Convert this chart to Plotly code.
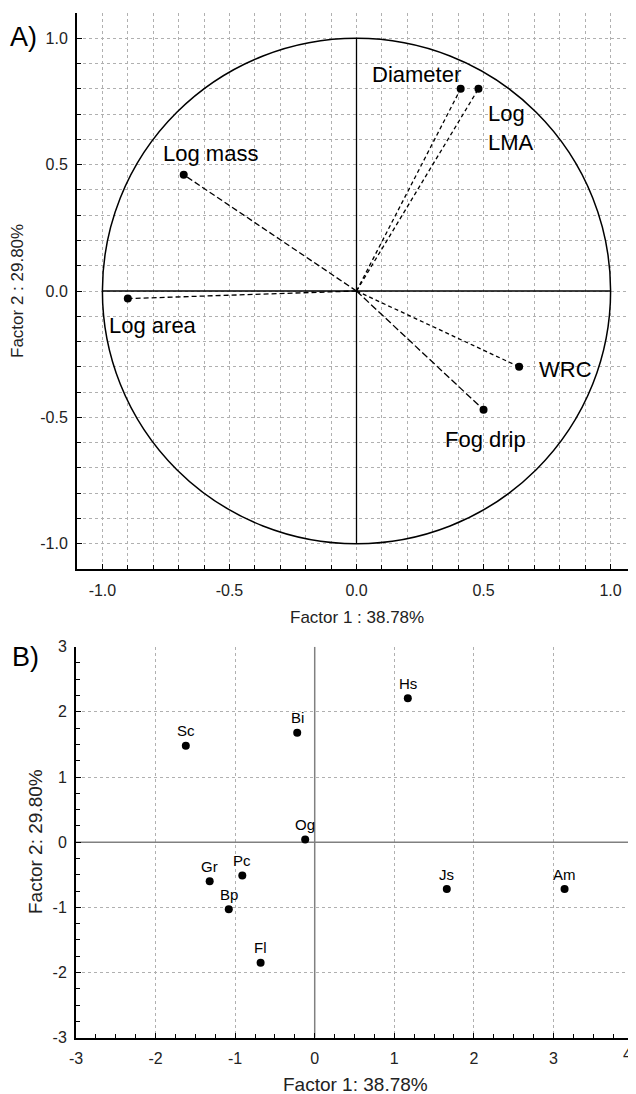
import plotly.graph_objects as go

# ---- Data: panel A (variable loadings) ----
var_names = ["Log mass", "Log area", "Diameter", "Log LMA", "WRC", "Fog drip"]
var_f1 = [-0.68, -0.90, 0.41, 0.48, 0.64, 0.50]
var_f2 = [0.46, -0.03, 0.80, 0.80, -0.30, -0.47]

# ---- Data: panel B (species scores) ----
species = ["Sc", "Bi", "Og", "Hs", "Gr", "Pc", "Bp", "Fl", "Js", "Am"]
sp_f1 = [-1.62, -0.22, -0.12, 1.17, -1.32, -0.91, -1.08, -0.68, 1.66, 3.14]
sp_f2 = [1.48, 1.68, 0.04, 2.21, -0.60, -0.51, -1.03, -1.85, -0.72, -0.72]

# ---- Tick labels ----
ticks_a = [-1.0, -0.5, 0.0, 0.5, 1.0]
ticktext_a = ["-1.0", "-0.5", "0.0", "0.5", "1.0"]
xticks_b = [-3, -2, -1, 0, 1, 2, 3, 4]
xticktext_b = ["-3", "-2", "-1", "0", "1", "2", "3", "4"]
yticks_b = [-3, -2, -1, 0, 1, 2, 3]
yticktext_b = ["-3", "-2", "-1", "0", "1", "2", "3"]

xtitle_a = "Factor 1 : 38.78%"
ytitle_a = "Factor 2 : 29.80%"
xtitle_b = "Factor 1: 38.78%"
ytitle_b = "Factor 2: 29.80%"

# page has an 8px body margin; size the figure so it fits the 636x1094 window
OFF = 8
W, H = 636 - OFF, 1094 - OFF
FONT = "Arial, Liberation Sans, sans-serif"


def px_x(p):
    """window pixel x -> paper fraction"""
    return (p - OFF) / W


def px_y(p):
    """window pixel y -> paper fraction"""
    return 1 - (p - OFF) / H


# label placement (style): anchor, xshift, yshift, text override
lab_style_a = {
    "Log mass": ("center", 27, 21, "Log mass"),
    "Log area": ("left", -21, -27, "Log area"),
    "Diameter": ("right", 2, 14, "Diameter"),
    "Log LMA": ("left", 8, -39, "Log<br>LMA"),
    "WRC": ("left", 18, -3, "WRC"),
    "Fog drip": ("center", 2, -30, "Fog drip"),
}
dash_a = {
    "Log mass": "6px,3px", "Log area": "5px,3px", "Diameter": "4px,3px",
    "Log LMA": "4px,3px", "WRC": "4px,3px", "Fog drip": "7px,3px",
}

fig = go.Figure()

# vectors for panel A
for n, x, y in zip(var_names, var_f1, var_f2):
    fig.add_trace(go.Scatter(x=[0, x], y=[0, y], mode="lines",
                             line=dict(color="black", width=1.3, dash=dash_a[n]),
                             xaxis="x", yaxis="y", showlegend=False, hoverinfo="skip"))
fig.add_trace(go.Scatter(x=var_f1, y=var_f2, mode="markers", text=var_names,
                         marker=dict(color="black", size=8),
                         xaxis="x", yaxis="y", showlegend=False))

# panel B points
fig.add_trace(go.Scatter(x=sp_f1, y=sp_f2, mode="markers", text=species,
                         marker=dict(color="black", size=8),
                         xaxis="x2", yaxis="y2", showlegend=False))

annotations = []
for n, x, y in zip(var_names, var_f1, var_f2):
    anc, xs, ys, t = lab_style_a[n]
    annotations.append(dict(x=x, y=y, xref="x", yref="y", text=t, showarrow=False,
                            xanchor=anc, yanchor="middle", xshift=xs, yshift=ys,
                            align="left", font=dict(family=FONT, size=22, color="black")))
for n, x, y in zip(species, sp_f1, sp_f2):
    annotations.append(dict(x=x, y=y, xref="x2", yref="y2", text=n, showarrow=False,
                            xanchor="center", yanchor="middle", yshift=15,
                            font=dict(family=FONT, size=15, color="black")))

# last x tick label of panel B sits on the page edge: draw it as an annotation
xticktext_b_axis = xticktext_b[:-1] + [""]
annotations.append(dict(x=xticks_b[-1], y=px_y(1054), xref="x2", yref="paper",
                        text=xticktext_b[-1], showarrow=False,
                        xanchor="right", xshift=1, yanchor="middle",
                        font=dict(family=FONT, size=16, color="#222")))

# titles and panel letters
annotations += [
    dict(x=px_x(357), y=px_y(617), xref="paper", yref="paper", text=xtitle_a, showarrow=False,
         xanchor="center", yanchor="middle", font=dict(family=FONT, size=17, color="#222")),
    dict(x=px_x(18), y=px_y(291), xref="paper", yref="paper", text=ytitle_a, showarrow=False,
         textangle=-90, xanchor="center", yanchor="middle", font=dict(family=FONT, size=17, color="#222")),
    dict(x=px_x(355), y=px_y(1084), xref="paper", yref="paper", text=xtitle_b, showarrow=False,
         xanchor="center", yanchor="middle", font=dict(family=FONT, size=19, color="#222")),
    dict(x=px_x(35), y=px_y(842), xref="paper", yref="paper", text=ytitle_b, showarrow=False,
         textangle=-90, xanchor="center", yanchor="middle", font=dict(family=FONT, size=19, color="#222")),
    dict(x=px_x(8), y=px_y(37), xref="paper", yref="paper", text="A)", showarrow=False,
         xanchor="left", yanchor="middle", font=dict(family=FONT, size=27, color="black")),
    dict(x=px_x(10), y=px_y(657), xref="paper", yref="paper", text="B)", showarrow=False,
         xanchor="left", yanchor="middle", font=dict(family=FONT, size=27, color="black")),
]

shapes = [
    dict(type="circle", xref="x", yref="y", x0=-1, y0=-1, x1=1, y1=1,
         line=dict(color="black", width=1.5)),
    dict(type="line", xref="x", yref="y", x0=-1, y0=0, x1=1, y1=0,
         line=dict(color="black", width=1.3), layer="between"),
    dict(type="line", xref="x", yref="y", x0=0, y0=-1, x1=0, y1=1,
         line=dict(color="black", width=1.3), layer="between"),
    dict(type="line", xref="x2", yref="y2", x0=-3, y0=0, x1=4, y1=0,
         line=dict(color="#808080", width=1.5), layer="between"),
    dict(type="line", xref="x2", yref="y2", x0=0, y0=-3, x1=0, y1=3,
         line=dict(color="#808080", width=1.5), layer="between"),
]

grid = dict(showgrid=True, gridcolor="#b0b0b0", griddash="dot", gridwidth=1,
            zeroline=False, showline=True, linecolor="black", linewidth=2,
            ticks="inside", tickcolor="black", ticklen=5, tickwidth=1,
            tickfont=dict(family=FONT, size=16, color="#222"), mirror=False,
            automargin=False, ticklabeloverflow="allow")

fig.update_layout(
    width=W, height=H, autosize=False,
    margin=dict(l=0, r=0, t=0, b=0),
    paper_bgcolor="white", plot_bgcolor="white",
    showlegend=False,
    annotations=annotations, shapes=shapes,
    xaxis=dict(domain=[px_x(77), 1.0], range=[-1.1, 1.1], anchor="y",
               tickvals=ticks_a, ticktext=ticktext_a,
               minor=dict(dtick=0.1, tick0=0, showgrid=True, gridcolor="#b0b0b0",
                          griddash="dot", ticks="inside", ticklen=4, tickcolor="black"),
               ticklabelstandoff=6, **grid),
    yaxis=dict(domain=[px_y(569), px_y(13)], range=[-1.1, 1.1], anchor="x",
               tickvals=ticks_a, ticktext=ticktext_a,
               minor=dict(dtick=0.1, tick0=0, showgrid=True, gridcolor="#b0b0b0",
                          griddash="dot", ticks="inside", ticklen=4, tickcolor="black"),
               ticklabelstandoff=4, **grid),
    xaxis2=dict(domain=[px_x(76), px_x(633)], range=[-3, 4], anchor="y2",
                tickvals=xticks_b, ticktext=xticktext_b_axis,
                minor=dict(dtick=0.25, tick0=0, showgrid=False, ticks="inside",
                           ticklen=4, tickcolor="black"),
                ticklabelstandoff=5, **grid),
    yaxis2=dict(domain=[px_y(1037.7), px_y(646.7)], range=[-3, 3], anchor="x2",
                tickvals=yticks_b, ticktext=yticktext_b,
                minor=dict(dtick=0.25, tick0=0, showgrid=False, ticks="inside",
                           ticklen=4, tickcolor="black"),
                ticklabelstandoff=4, **grid),
)

fig.write_html("out.html")
